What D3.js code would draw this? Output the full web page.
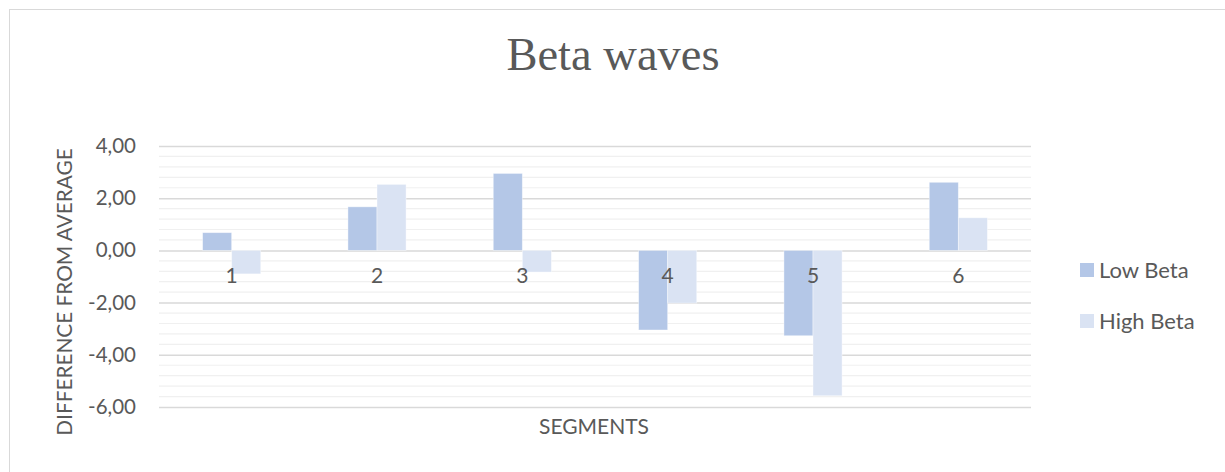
<!DOCTYPE html>
<html>
<head>
<meta charset="utf-8">
<script src="https://cdn.jsdelivr.net/npm/d3@7"></script>
<style>
  html, body { margin: 0; padding: 0; background: #fff; }
  svg { display: block; }
  text { fill: #595959; }
</style>
</head>
<body>
<svg id="chart" width="1225" height="472"></svg>
<script>
// Segment categories and per-series differences from the average
const segments = ["1", "2", "3", "4", "5", "6"];
const lowBeta  = [0.68, 1.67, 2.95, -3.05, -3.27, 2.61];
const highBeta = [-0.90, 2.53, -0.83, -2.02, -5.57, 1.25];
const seriesNames = ["Low Beta", "High Beta"];
const seriesColors = ["#b4c7e7", "#dae3f3"];
const yTicks = [-6, -4, -2, 0, 2, 4];

const svg = d3.select("#chart");
const W = 1225, H = 472;
const sansFont = "Lato, 'Open Sans', sans-serif";

// Chart frame
svg.append("rect")
  .attr("x", 9.5).attr("y", 9.5)
  .attr("width", W + 20).attr("height", H + 20)
  .attr("fill", "#fff").attr("stroke", "#d9d9d9").attr("stroke-width", 1);

const plot = { left: 159, right: 1031, top: 146, bottom: 407 };

const x0 = d3.scaleBand().domain(segments).range([plot.left, plot.right]).padding(0);
const bw = x0.bandwidth();
const x1 = d3.scaleBand().domain(seriesNames).range([bw * 0.3, bw * 0.7]).padding(0);
const y = d3.scaleLinear().domain([-6, 4]).range([plot.bottom, plot.top]);

// Minor gridlines every 0.4
const minor = d3.range(-6, 4.0001, 0.4).filter(v => Math.abs(v / 2 - Math.round(v / 2)) > 1e-6);
svg.append("g").selectAll("line").data(minor).join("line")
  .attr("x1", plot.left).attr("x2", plot.right)
  .attr("y1", d => y(d)).attr("y2", d => y(d))
  .attr("stroke", "#f0f0f0").attr("stroke-width", 1.2);

// Major gridlines and value axis labels
const yAxis = d3.axisLeft(y).tickValues(yTicks)
  .tickSize(-(plot.right - plot.left)).tickPadding(23)
  .tickFormat(d => d3.format(".2f")(d).replace(".", ",").replace("−", "-"));
const gy = svg.append("g").attr("transform", `translate(${plot.left},0)`).call(yAxis);
gy.select(".domain").remove();
gy.selectAll(".tick line").attr("stroke", "#d9d9d9").attr("stroke-width", 1.5);
gy.selectAll(".tick text")
  .attr("font-family", sansFont).attr("font-size", 20.5)
  .style("fill", "#595959");

// Bars
const rows = segments.map((s, i) => ({ seg: s, values: [lowBeta[i], highBeta[i]] }));
const groups = svg.append("g").selectAll("g").data(rows).join("g")
  .attr("transform", d => `translate(${x0(d.seg)},0)`);
groups.selectAll("rect")
  .data(d => d.values.map((v, j) => ({ name: seriesNames[j], value: v, color: seriesColors[j] })))
  .join("rect")
  .attr("x", d => x1(d.name))
  .attr("width", x1.bandwidth())
  .attr("y", d => y(Math.max(0, d.value)))
  .attr("height", d => Math.abs(y(d.value) - y(0)))
  .attr("fill", d => d.color)
  .attr("stroke", "#ffffff").attr("stroke-opacity", 0.5).attr("stroke-width", 0.8);

// Category labels sit just below the zero line
svg.append("g").selectAll("text").data(segments).join("text")
  .attr("x", d => x0(d) + bw / 2)
  .attr("y", y(0) + 33)
  .attr("text-anchor", "middle")
  .attr("font-family", sansFont).attr("font-size", 21)
  .text(d => d);

// Title
svg.append("text")
  .attr("x", 613).attr("y", 70)
  .attr("text-anchor", "middle")
  .attr("font-family", "'Liberation Serif', 'DejaVu Serif', serif")
  .attr("font-size", 46.5)
  .text("Beta waves");

// Axis titles
svg.append("text")
  .attr("x", 594).attr("y", 434)
  .attr("text-anchor", "middle")
  .attr("font-family", sansFont).attr("font-size", 21)
  .text("SEGMENTS");

svg.append("text")
  .attr("transform", `translate(72,292) rotate(-90)`)
  .attr("text-anchor", "middle")
  .attr("font-family", sansFont).attr("font-size", 20.8)
  .text("DIFFERENCE FROM AVERAGE");

// Legend
const legend = svg.append("g").selectAll("g").data(seriesNames).join("g")
  .attr("transform", (d, i) => `translate(1080,${263 + i * 51})`);
legend.append("rect")
  .attr("width", 14).attr("height", 14)
  .attr("fill", (d, i) => seriesColors[i]);
legend.append("text")
  .attr("x", 19).attr("y", 14.5)
  .attr("font-family", sansFont).attr("font-size", 22)
  .text(d => d);
</script>
</body>
</html>
